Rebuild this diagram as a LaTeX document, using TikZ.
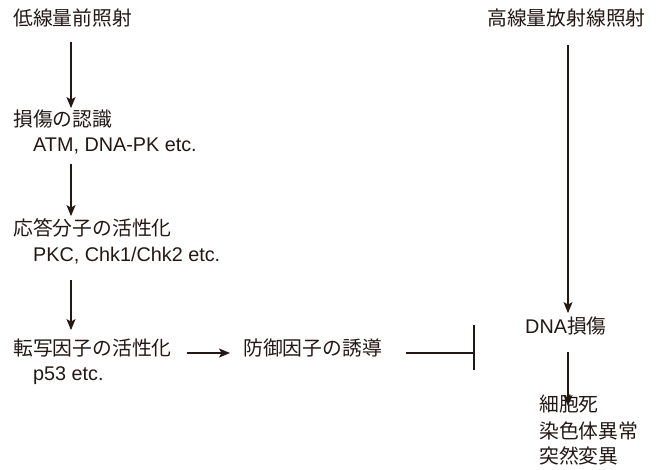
\documentclass[tikz,border=0pt]{standalone}
\usepackage{fontspec}
\setmainfont{Liberation Sans}
\newfontfamily\cjk{Noto Sans CJK JP}
\usetikzlibrary{arrows.meta,calc}
\definecolor{ink}{HTML}{231815}
\begin{document}
\begin{tikzpicture}[x=1pt,y=-1pt,
  txt/.style={inner sep=0pt, anchor=west, text height=0.74em, text depth=0pt,
    font=\fontsize{19.8}{23}\selectfont, text=ink},
  jtxt/.style={txt, font=\fontsize{19.8}{23}\selectfont\cjk},
  arr/.style={draw=ink, line width=1.2pt, -{Stealth[length=11pt,width=9pt,inset=2.5pt]}},
  ln/.style={draw=ink, line width=1.2pt}]
\useasboundingbox (0,0) rectangle (660,469);
% columns
\coordinate (cL) at (71,0);
\coordinate (cR) at (568,0);
\coordinate (bar) at (474,353);
% texts
\node[jtxt] (low) at (13,22) {低線量前照射};
\node[jtxt] (high) at (487,22) {高線量放射線照射};
\node[jtxt] (rec) at (13,123) {損傷の認識};
\node[txt] (atm) at (33,148) {ATM, DNA-PK etc.};
\node[jtxt] (resp) at (13,232) {応答分子の活性化};
\node[txt] (pkc) at (33,258) {PKC, Chk1/Chk2 etc.};
\node[jtxt] (tf) at (13,352) {転写因子の活性化};
\node[txt] (p53) at (33,377) {p53 etc.};
\node[jtxt] (def) at (243,352) {防御因子の誘導};
\node[txt] (dna) at (525,330) {DNA{\cjk 損傷}};
\node[jtxt] (o1) at (539,408) {細胞死};
\node[jtxt] (o2) at (539,435) {染色体異常};
\node[jtxt] (o3) at (539,460) {突然変異};
% left column arrows
\draw[arr] ($(low.south -| cL)+(0,16)$) -- ($(rec.north -| cL)+(0,-11)$);
\draw[arr] ($(atm.south -| cL)+(0,12)$) -- ($(resp.north -| cL)+(0,-12)$);
\draw[arr] ($(pkc.south -| cL)+(0,18)$) -- ($(tf.north -| cL)+(0,-18)$);
% horizontal
\draw[arr] ($(tf.east)+(15,1)$) -- ($(def.west)+(-13,1)$);
\draw[ln] ($(def.east)+(24,1)$) -- (bar);
\draw[ln, line width=1.5pt] ($(bar)+(0,-28)$) -- ($(bar)+(0,17)$);
% right column
\draw[arr] ($(high.south -| cR)+(0,19)$) -- ($(dna.north -| cR)+(0,-13)$);
\draw[arr] ($(dna.south -| cR)+(0,18)$) -- ($(o1.north -| cR)+(0,2)$);
\end{tikzpicture}
\end{document}
